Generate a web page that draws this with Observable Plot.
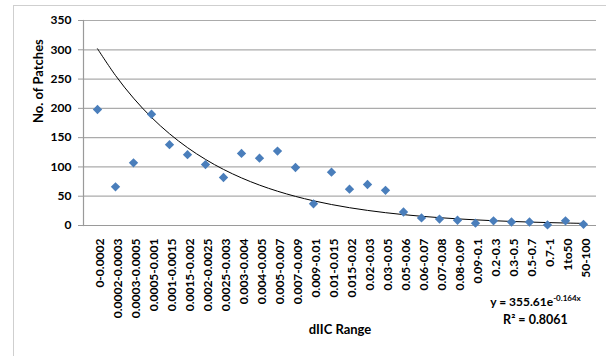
<!DOCTYPE html>
<html>
<head>
<meta charset="utf-8">
<script src="https://cdn.jsdelivr.net/npm/d3@7"></script>
<script src="https://cdn.jsdelivr.net/npm/@observablehq/plot@0.6"></script>
<style>
html, body { margin: 0; padding: 0; background: #fff; overflow: hidden; }
#wrap { position: relative; width: 606px; height: 356px; }
#frame { position: absolute; left: 13px; top: 5px; width: 700px; height: 500px; border: 1px solid #cfcfcf; box-sizing: border-box; pointer-events: none; }
</style>
</head>
<body>
<div id="wrap"><div id="frame"></div></div>
<script>
const categories = ["0-0.0002","0.0002-0.0003","0.0003-0.0005","0.0005-0.001","0.001-0.0015","0.0015-0.002","0.002-0.0025","0.0025-0.003","0.003-0.004","0.004-0.005","0.005-0.007","0.007-0.009","0.009-0.01","0.01-0.015","0.015-0.02","0.02-0.03","0.03-0.05","0.05-0.06","0.06-0.07","0.07-0.08","0.08-0.09","0.09-0.1","0.2-0.3","0.3-0.5","0.5-0.7","0.7-1","1to50","50-100"];
const patches = [198, 66, 107, 190, 138, 121, 104, 82, 123, 115, 127, 99, 37, 91, 62, 70, 60, 23, 13, 11, 9, 4, 8, 6, 6, 1, 8, 2];
const yTicks = [0, 50, 100, 150, 200, 250, 300, 350];
// Exponential trendline as printed on the chart: y = 355.61e^(-0.164x)
const trendA = 355.61;
const trendB = -0.164;
const rSquared = "0.8061";

const points = categories.map((c, i) => ({range: c, n: patches[i]}));
const trend = categories.map((c, i) => ({range: c, n: trendA * Math.exp(trendB * (i + 1))}));

const font = "Lato, 'DejaVu Sans', sans-serif";

const svg = Plot.plot({
  width: 606,
  height: 356,
  marginLeft: 83,
  marginRight: 10,
  marginTop: 20,
  marginBottom: 131,
  style: {fontFamily: font, fontWeight: "bold", fontSize: "12px", color: "#000", background: "transparent"},
  x: {type: "band", domain: categories, padding: 0},
  y: {domain: [0, 350]},
  marks: [
    Plot.gridY(yTicks, {stroke: "#ababab", strokeOpacity: 1, strokeWidth: 1.2}),
    Plot.ruleY([0], {stroke: "#9a9a9a", strokeWidth: 1.2}),
    Plot.frame({anchor: "left", stroke: "#9a9a9a", strokeWidth: 1.2}),
    Plot.axisY(yTicks, {tickSize: 5, tickPadding: 7, stroke: "#9a9a9a", label: null, fontSize: 12}),
    Plot.axisX({tickRotate: -90, tickSize: 0, tickPadding: 13, label: null, fontSize: 12, dx: 3}),
    Plot.line(trend, {x: "range", y: "n", curve: "catmull-rom", stroke: "#000", strokeWidth: 1}),
    Plot.dot(points, {x: "range", y: "n", symbol: "diamond2", r: 4.2, fill: "#4a7ebb", stroke: "none"}),
    Plot.text(["No. of Patches"], {frameAnchor: "left", dx: -45, rotate: -90, fontSize: 13}),
    Plot.text(["dIIC Range"], {frameAnchor: "bottom", dy: 108, fontSize: 13})
  ]
});

// trendline equation and R² labels (with superscript)
const s = d3.select(svg);
const eq = s.append("text")
  .attr("x", 535.5).attr("y", 306)
  .attr("text-anchor", "middle")
  .attr("font-family", font).attr("font-weight", "bold").attr("font-size", 12);
eq.append("tspan").text("y = " + trendA + "e");
eq.append("tspan").attr("font-size", 8).attr("dy", -5).text(String(trendB) + "x");
s.append("text")
  .attr("x", 535.5).attr("y", 324)
  .attr("text-anchor", "middle")
  .attr("font-family", font).attr("font-weight", "bold").attr("font-size", 12.5)
  .text("R² = " + rSquared);

document.getElementById("wrap").prepend(svg);
</script>
</body>
</html>
